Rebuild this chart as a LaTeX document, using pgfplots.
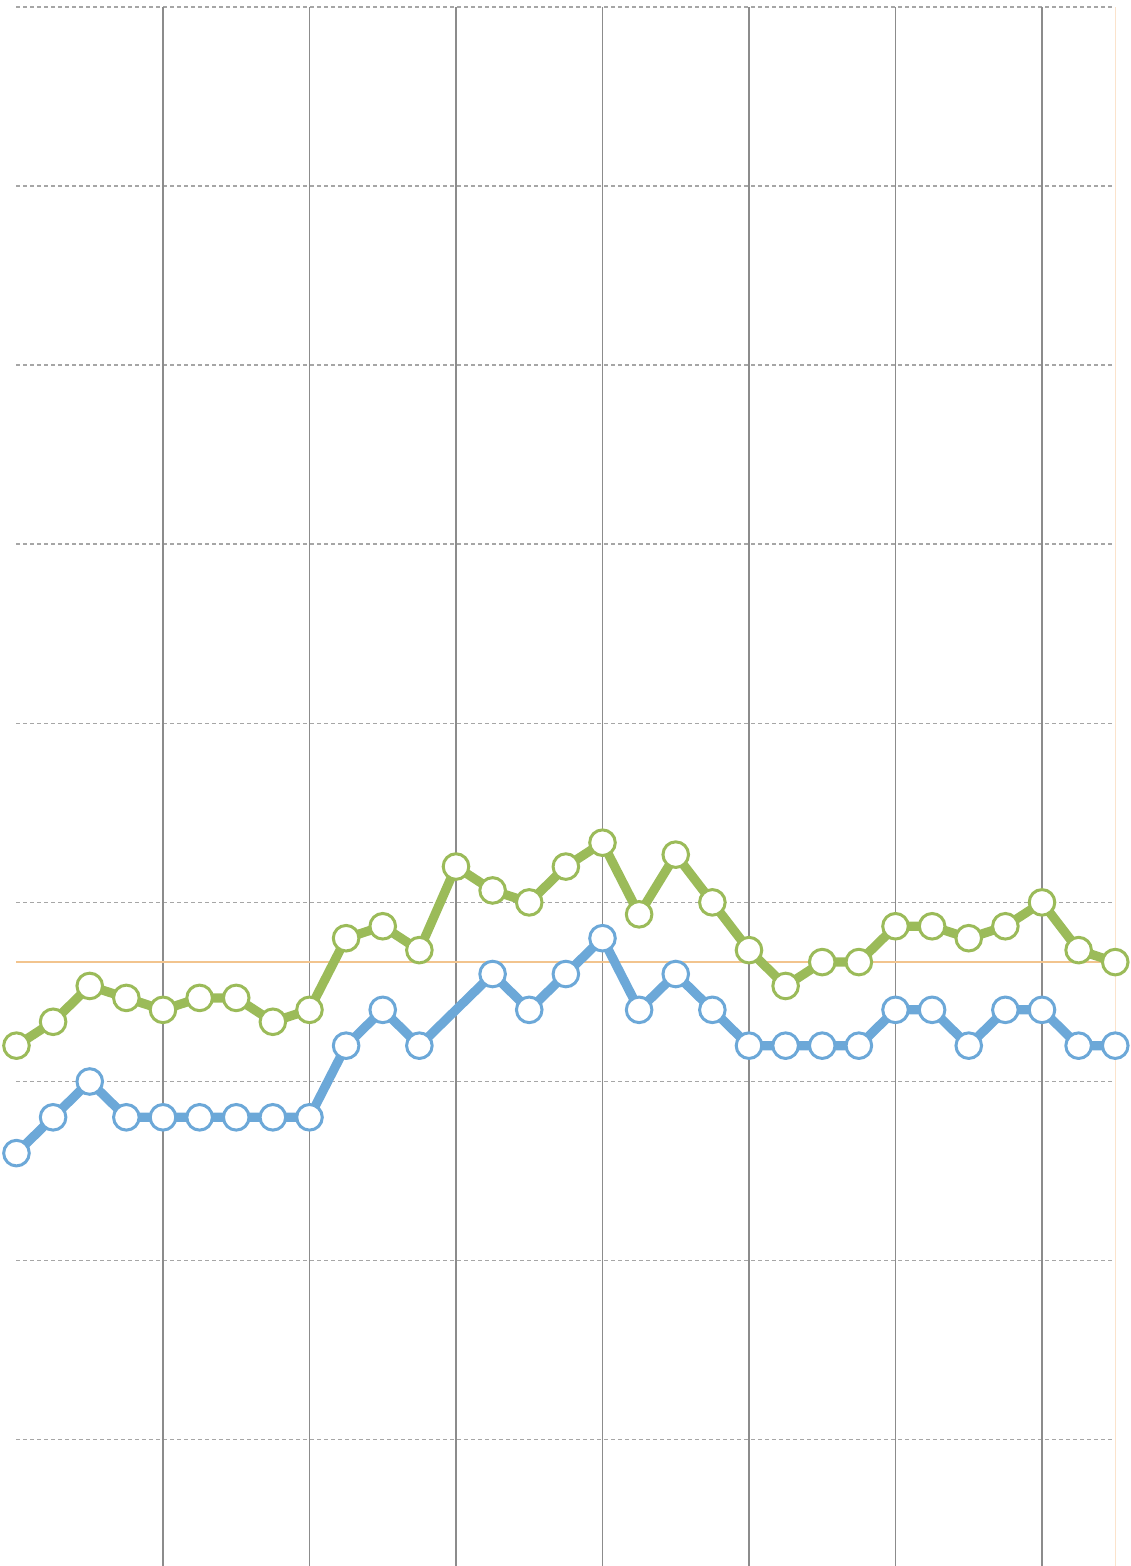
\documentclass[border=0pt]{standalone}
\usepackage{pgfplots}
\pgfplotsset{compat=1.18}
\definecolor{cgreen}{HTML}{9BBB59}
\definecolor{cblue}{HTML}{6CA8D8}
\definecolor{corange}{HTML}{F2C48E}
\definecolor{corangel}{HTML}{FBE3CC}
\definecolor{cgrid}{HTML}{A6A6A6}
\definecolor{cvert}{HTML}{8C8C8C}
\begin{document}
\begin{tikzpicture}
\begin{axis}[
  scale only axis, width=565.5pt, height=783pt,
  xmin=-0.45, xmax=30.43, ymin=-40.58, ymax=90.58,
  hide axis, clip=false,
]
% horizontal dashed grid
\foreach \yy in {-30,-15,0,15,30,45,60,75,90}{
  \edef\tmp{\noexpand\addplot[cgrid, line width=0.7pt, dash pattern=on 2pt off 1.5pt, forget plot] coordinates {(0,\yy) (30,\yy)};}
  \tmp
}
% vertical lines
\foreach \xx in {4,8,12,16,20,24,28}{
  \edef\tmp{\noexpand\addplot[cvert, line width=0.7pt, forget plot] coordinates {(\xx,90) (\xx,-40.58)};}
  \tmp
}
\addplot[corangel, line width=0.7pt, forget plot] coordinates {(30,90) (30,-40.58)};
\addplot[corange, line width=0.7pt, forget plot] coordinates {(0,10) (30,10)};
% blue series
\addplot[cblue, line width=4.6pt, mark=*, mark size=6.4pt,
  mark options={fill=white, draw=cblue, line width=1.5pt}] coordinates {
(0,-6) (1,-3) (2,0) (3,-3) (4,-3) (5,-3) (6,-3) (7,-3) (8,-3) (9,3) (10,6) (11,3)
(13,9) (14,6) (15,9) (16,12) (17,6) (18,9) (19,6) (20,3) (21,3) (22,3) (23,3)
(24,6) (25,6) (26,3) (27,6) (28,6) (29,3) (30,3)};
% green series
\addplot[cgreen, line width=4.6pt, mark=*, mark size=6.4pt,
  mark options={fill=white, draw=cgreen, line width=1.5pt}] coordinates {
(0,3) (1,5) (2,8) (3,7) (4,6) (5,7) (6,7) (7,5) (8,6) (9,12) (10,13) (11,11)
(12,18) (13,16) (14,15) (15,18) (16,20) (17,14) (18,19) (19,15) (20,11) (21,8)
(22,10) (23,10) (24,13) (25,13) (26,12) (27,13) (28,15) (29,11) (30,10)};
\end{axis}
\pgfresetboundingbox
\path[use as bounding box] (current axis.south west) rectangle (current axis.north east);
\end{tikzpicture}
\end{document}
